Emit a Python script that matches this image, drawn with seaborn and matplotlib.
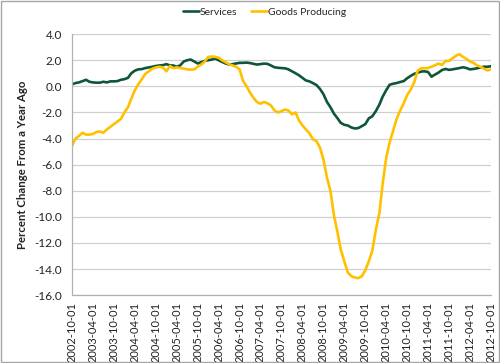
import matplotlib

matplotlib.use("Agg")
import matplotlib.pyplot as plt
from matplotlib.patches import Rectangle
import numpy as np
import pandas as pd
import seaborn as sns

# Monthly year-over-year % change, 2002-10 .. 2012-10
services = [
    0.15, 0.25, 0.30, 0.40, 0.50, 0.35, 0.30, 0.28, 0.28, 0.35, 0.30, 0.38,
    0.38, 0.40, 0.50, 0.55, 0.65, 1.00, 1.20, 1.30, 1.32, 1.40, 1.45, 1.50,
    1.56, 1.60, 1.62, 1.70, 1.60, 1.60, 1.50, 1.60, 1.90, 2.00, 2.05, 1.90,
    1.75, 1.85, 1.95, 2.00, 2.05, 2.13, 2.00, 1.87, 1.75, 1.68, 1.70, 1.75,
    1.80, 1.80, 1.82, 1.78, 1.72, 1.67, 1.70, 1.74, 1.72, 1.60, 1.46, 1.42,
    1.40, 1.38, 1.30, 1.15, 1.00, 0.85, 0.65, 0.45, 0.38, 0.25, 0.10, -0.20,
    -0.60, -1.20, -1.60, -2.10, -2.45, -2.80, -2.95, -3.00, -3.15, -3.23, -3.20, -3.05,
    -2.90, -2.45, -2.30, -1.90, -1.40, -0.80, -0.30, 0.12, 0.20, 0.25, 0.33, 0.40,
    0.62, 0.80, 0.95, 1.05, 1.13, 1.15, 1.10, 0.74, 0.90, 1.05, 1.25, 1.33,
    1.26, 1.30, 1.35, 1.40, 1.46, 1.40, 1.30, 1.33, 1.38, 1.45, 1.50, 1.50,
    1.54,
]
goods = [
    -4.55, -4.00, -3.80, -3.56, -3.70, -3.70, -3.65, -3.50, -3.46, -3.56, -3.30, -3.10,
    -2.90, -2.70, -2.50, -2.00, -1.60, -0.95, -0.30, 0.15, 0.55, 0.95, 1.15, 1.36,
    1.45, 1.50, 1.45, 1.15, 1.56, 1.40, 1.45, 1.40, 1.36, 1.30, 1.28, 1.30,
    1.50, 1.67, 1.90, 2.26, 2.28, 2.26, 2.20, 2.00, 1.85, 1.70, 1.60, 1.50,
    1.30, 0.40, 0.00, -0.50, -0.90, -1.20, -1.33, -1.20, -1.30, -1.46, -1.85, -2.00,
    -1.90, -1.78, -1.85, -2.15, -2.00, -2.60, -3.00, -3.30, -3.60, -4.05, -4.20, -4.70,
    -5.60, -7.00, -8.00, -9.90, -11.20, -12.50, -13.40, -14.26, -14.55, -14.65, -14.70, -14.55,
    -14.10, -13.40, -12.60, -11.00, -9.70, -7.50, -5.50, -4.30, -3.40, -2.50, -1.85, -1.30,
    -0.67, -0.25, 0.30, 1.20, 1.38, 1.38, 1.40, 1.50, 1.62, 1.74, 1.64, 1.95,
    1.95, 2.15, 2.35, 2.46, 2.25, 2.10, 1.90, 1.80, 1.60, 1.50, 1.35, 1.22,
    1.30,
]
dates = pd.date_range("2002-10-01", "2012-10-01", freq="MS")
tick_dates = pd.date_range("2002-10-01", "2012-10-01", freq="6MS")
y_ticks = np.arange(-16, 4.1, 2)

df = pd.DataFrame({"date": dates, "Services": services, "Goods Producing": goods})
long_df = df.melt(id_vars="date", var_name="series", value_name="pct")

sns.set_theme(style="white")
plt.rcParams["font.family"] = ["Lato", "DejaVu Sans"]

fig = plt.figure(figsize=(5, 3.63), dpi=100)
ax = fig.add_axes([0.144, 0.187, 0.838, 0.719])

sns.lineplot(
    data=long_df, x="date", y="pct", hue="series",
    palette={"Services": "#0E5637", "Goods Producing": "#FFC000"},
    linewidth=1.9, ax=ax,
)

ax.set_xlim(dates[0], dates[-1])
ax.set_ylim(-16, 4)
ax.set_yticks(y_ticks)
ax.set_yticklabels([f"{v:.1f}" for v in y_ticks], fontsize=8.5, color="#222222")
ax.set_xticks(tick_dates)
ax.set_xticklabels([d.strftime("%Y-%m-%d") for d in tick_dates], rotation=90, fontsize=8, color="#222222")
ax.tick_params(axis="y", length=0, pad=7)
ax.tick_params(axis="x", length=0, pad=5)
ax.grid(axis="y", color="#D0D0D0", linewidth=0.9)
ax.set_axisbelow(True)

for side in ["top", "right"]:
    ax.spines[side].set_visible(False)
for side in ["left", "bottom"]:
    ax.spines[side].set_color("#B0B0B0")
    ax.spines[side].set_linewidth(0.9)

ax.set_xlabel("")
ax.set_ylabel("Percent Change From a Year Ago", fontsize=8.2, fontweight="bold", color="#222222", labelpad=5)

handles, labels = ax.get_legend_handles_labels()
ax.legend(
    handles, labels, loc="lower center", bbox_to_anchor=(0.46, 1.03), ncol=2,
    frameon=False, fontsize=7.5, handlelength=1.5, handletextpad=0.1, columnspacing=1.3,
)

fig.patches.append(Rectangle((0.002, 0.003), 0.996, 0.994, transform=fig.transFigure,
                             fill=False, edgecolor="#A6A6A6", linewidth=1.0))

fig.savefig("out.png", dpi=100)
